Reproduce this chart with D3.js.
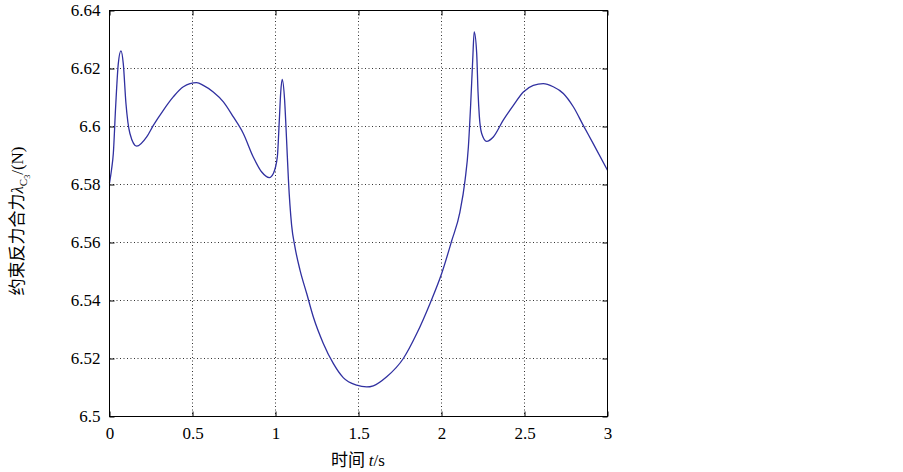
<!DOCTYPE html>
<html><head><meta charset="utf-8">
<script src="https://cdn.jsdelivr.net/npm/d3@7"></script>
<style>
html,body{margin:0;padding:0;background:#fff;}
svg text{font-family:"Times New Roman","Liberation Serif","DejaVu Serif",serif !important;}
svg text tspan.cjk{font-family:"Noto Sans CJK SC",sans-serif !important;}
</style></head>
<body><svg id="c" width="903" height="472"></svg>
<script>
const time = [0.0,0.012,0.023,0.037,0.053,0.069,0.083,0.099,0.123,0.164,0.224,0.264,0.324,0.384,0.445,0.525,0.565,0.625,0.686,0.746,0.806,0.866,0.917,0.963,0.987,1.011,1.023,1.031,1.040,1.055,1.063,1.071,1.078,1.097,1.117,1.148,1.188,1.228,1.288,1.348,1.408,1.489,1.549,1.589,1.670,1.770,1.851,1.931,2.001,2.061,2.111,2.142,2.162,2.176,2.188,2.197,2.212,2.220,2.228,2.242,2.272,2.312,2.372,2.433,2.493,2.553,2.613,2.673,2.734,2.794,2.854,2.914,3.0];
const force = [6.5805,6.5850,6.5907,6.6068,6.6217,6.6261,6.6217,6.6080,6.5976,6.5932,6.5964,6.6004,6.6056,6.6102,6.6137,6.6151,6.6142,6.6119,6.6085,6.6033,6.5976,6.5895,6.5843,6.5824,6.5838,6.5895,6.6022,6.6114,6.6162,6.6090,6.6000,6.5900,6.5815,6.5660,6.5585,6.5504,6.5424,6.5343,6.5252,6.5183,6.5134,6.5108,6.5102,6.5106,6.5137,6.5200,6.5286,6.5390,6.5493,6.5605,6.5705,6.5815,6.5930,6.6079,6.6229,6.6326,6.6252,6.6120,6.6035,6.5976,6.5949,6.5964,6.6022,6.6073,6.6119,6.6142,6.6148,6.6137,6.6114,6.6068,6.6004,6.5941,6.5849];
const xTicks = [0,0.5,1,1.5,2,2.5,3];
const xTickLabels = ["0","0.5","1","1.5","2","2.5","3"];
const yTicks = [6.5,6.52,6.54,6.56,6.58,6.6,6.62,6.64];
const yTickLabels = ["6.5","6.52","6.54","6.56","6.58","6.6","6.62","6.64"];

const L=109.5, R=607.5, T=10.5, B=416.5;
const svg = d3.select("#c");
const x = d3.scaleLinear().domain([0,3]).range([L,R]);
const y = d3.scaleLinear().domain([6.5,6.64]).range([B,T]);

// grid
const g = svg.append("g");
g.selectAll(".gx").data(xTicks.slice(1,-1)).enter().append("line")
 .attr("x1",d=>x(d)).attr("x2",d=>x(d)).attr("y1",T).attr("y2",B)
 .attr("stroke","#333").attr("stroke-width",1).attr("stroke-dasharray","1,2.5");
g.selectAll(".gy").data(yTicks.slice(1,-1)).enter().append("line")
 .attr("y1",d=>y(d)).attr("y2",d=>y(d)).attr("x1",L).attr("x2",R)
 .attr("stroke","#333").attr("stroke-width",1).attr("stroke-dasharray","1,2.5");

// axes
const xAxisB = d3.axisBottom(x).tickValues(xTicks).tickFormat((d,i)=>xTickLabels[i]).tickSizeInner(-5).tickSizeOuter(0).tickPadding(10);
const xAxisT = d3.axisTop(x).tickValues(xTicks).tickFormat("").tickSizeInner(-5).tickSizeOuter(0);
const yAxisL = d3.axisLeft(y).tickValues(yTicks).tickFormat((d,i)=>yTickLabels[i]).tickSizeInner(-5).tickSizeOuter(0).tickPadding(9);
const yAxisR = d3.axisRight(y).tickValues(yTicks).tickFormat("").tickSizeInner(-5).tickSizeOuter(0);
function style(sel){
  sel.attr("font-family",null).attr("font-size",null);
  sel.selectAll("path").remove();
  sel.selectAll("line").attr("stroke","#000");
  sel.selectAll("text").attr("fill","#000").attr("font-size","17px");
}
svg.append("g").attr("transform",`translate(0,${B})`).call(xAxisB).call(style);
svg.append("g").attr("transform",`translate(0,${T})`).call(xAxisT).call(style);
svg.append("g").attr("transform",`translate(${L},0)`).call(yAxisL).call(style);
svg.append("g").attr("transform",`translate(${R},0)`).call(yAxisR).call(style);

// line
const pts = time.map((t,i)=>[t,force[i]]);
const line = d3.line().x(d=>x(d[0])).y(d=>y(d[1])).curve(d3.curveMonotoneX);
svg.append("path").datum(pts).attr("d",line).attr("fill","none")
 .attr("stroke","#3030a0").attr("stroke-width",1.3);

// frame
svg.append("rect").attr("x",L).attr("y",T).attr("width",R-L).attr("height",B-T)
 .attr("fill","none").attr("stroke","#000").attr("stroke-width",1);

// x label
const xl = svg.append("text").attr("x",358).attr("y",466).attr("text-anchor","middle")
 .attr("font-size","17px").attr("fill","#000");
xl.append("tspan").attr("class","cjk").text("时间 ");
xl.append("tspan").text("t").style("font-style","italic");
xl.append("tspan").text("/s");

// y label
const yl = svg.append("text").attr("transform","translate(23,221) rotate(-90)").attr("text-anchor","middle")
 .attr("font-size","17px").attr("fill","#000");
yl.append("tspan").attr("class","cjk").text("约束反力合力");
yl.append("tspan").text("λ").style("font-style","italic");
yl.append("tspan").text("C").style("font-size","11px").attr("dy",4);
yl.append("tspan").text("3").style("font-size","8px").attr("dy",3);
yl.append("tspan").text("/(N)").attr("dy",-7);
</script></body></html>
